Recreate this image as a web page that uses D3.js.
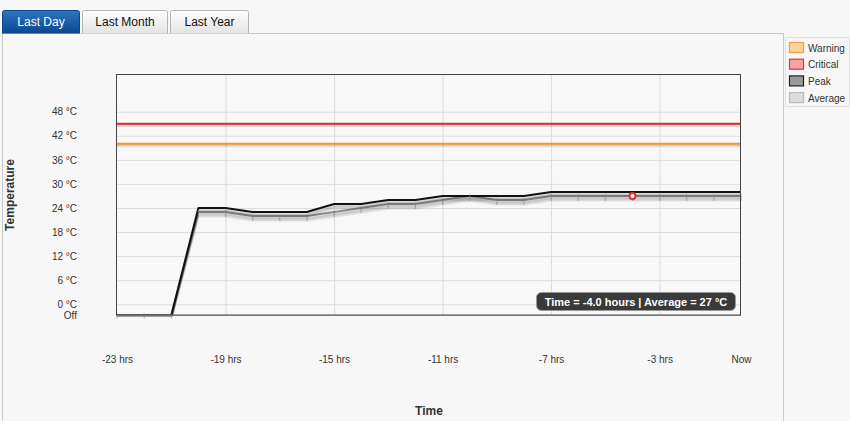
<!DOCTYPE html>
<html><head><meta charset="utf-8">
<script src="https://cdn.jsdelivr.net/npm/d3@7"></script>
<style>
html,body{margin:0;padding:0;background:#f7f7f7;}
svg{display:block;font-family:"Liberation Sans",Arial,sans-serif;}
</style></head>
<body><svg id="c" width="850" height="421"></svg>
<script>
// ---- data ----
const hours = [-23,-22,-21,-20,-19,-18,-17,-16,-15,-14,-13,-12,-11,-10,-9,-8,-7,-6,-5,-4,-3,-2,-1,0];
// null = "Off"
const peak    = [null,null,null,24,24,23,23,23,25,25,26,26,27,27,27,27,28,28,28,28,28,28,28,28];
const average = [null,null,null,23,23,22,22,22,23,24,25,25,26,27,26,26,27,27,27,27,27,27,27,27];
const warningLevel = 40;
const criticalLevel = 45;
const yTicks = [0,6,12,18,24,30,36,42,48];
const xTicks = [-23,-19,-15,-11,-7,-3,0];
const xGrid = [-19,-15,-11,-7,-3];
const tabs = ["Last Day","Last Month","Last Year"];
const legendItems = [
  {name:"Warning", fill:"#fdd49b", stroke:"#f0a33a"},
  {name:"Critical", fill:"#f5a3a3", stroke:"#e03535"},
  {name:"Peak", fill:"#9a9a9a", stroke:"#222"},
  {name:"Average", fill:"#dcdcdc", stroke:"#bbb"}
];
const hover = {time:-4, value:27};

const svg = d3.select("#c");
const offVal = -2.8;
const x = d3.scaleLinear().domain([-23,0]).range([117,741]);
const y = d3.scaleLinear().domain([offVal,57.4]).range([315.5,74]);
const L=116, R=741, T=74, B=315.5;

// panel
svg.append("rect").attr("x",0).attr("y",0).attr("width",850).attr("height",421).attr("fill","#f7f7f7");
svg.append("line").attr("x1",2).attr("x2",783).attr("y1",33.5).attr("y2",33.5).attr("stroke","#c8c8c8");
svg.append("line").attr("x1",2.5).attr("x2",2.5).attr("y1",33).attr("y2",421).attr("stroke","#c8c8c8");
svg.append("line").attr("x1",783.5).attr("x2",783.5).attr("y1",33).attr("y2",421).attr("stroke","#c8c8c8");

// tabs
const defs = svg.append("defs");
const g1 = defs.append("linearGradient").attr("id","tabA").attr("x1",0).attr("x2",0).attr("y1",0).attr("y2",1);
g1.append("stop").attr("offset","0%").attr("stop-color","#2e74c0");
g1.append("stop").attr("offset","100%").attr("stop-color","#0b4790");
const g2 = defs.append("linearGradient").attr("id","tabI").attr("x1",0).attr("x2",0).attr("y1",0).attr("y2",1);
g2.append("stop").attr("offset","0%").attr("stop-color","#ffffff");
g2.append("stop").attr("offset","100%").attr("stop-color","#e2e2e2");
defs.append("clipPath").attr("id","plotclip").append("rect")
  .attr("x",L).attr("y",T).attr("width",R-L).attr("height",B-T+1);
const tabX = [2,82,170], tabW=[78,86,79];
tabs.forEach((t,i)=>{
  svg.append("path")
    .attr("d",`M${tabX[i]+0.5},33.5 V12.5 Q${tabX[i]+0.5},10.5 ${tabX[i]+2.5},10.5 H${tabX[i]+tabW[i]-2.5} Q${tabX[i]+tabW[i]-0.5},10.5 ${tabX[i]+tabW[i]-0.5},12.5 V33.5`)
    .attr("fill", i===0?"url(#tabA)":"url(#tabI)")
    .attr("stroke", i===0?"#0b4790":"#b5b5b5");
  svg.append("text").attr("x",tabX[i]+tabW[i]/2).attr("y",25.5).attr("text-anchor","middle")
    .attr("font-size",12).attr("fill", i===0?"#fff":"#111").text(t);
});

// plot background
svg.append("rect").attr("x",L).attr("y",T).attr("width",R-L).attr("height",B-T).attr("fill","#f8f8f8");

// grid via axes
svg.append("g").attr("transform",`translate(${L},0)`)
  .call(d3.axisLeft(y).tickValues(yTicks).tickSize(-(R-L)).tickFormat(""))
  .call(g=>{g.select(".domain").remove(); g.selectAll("line").attr("stroke","#dcdcdc");});
svg.append("g").attr("transform",`translate(0,${B})`)
  .call(d3.axisBottom(x).tickValues(xGrid).tickSize(-(B-T)).tickFormat(""))
  .call(g=>{g.select(".domain").remove(); g.selectAll("line").attr("stroke","#dcdcdc");});

const plot = svg.append("g").attr("clip-path","url(#plotclip)");

// thresholds
function hline(v,color){
  [[3,0.06],[2,0.1],[1,0.15]].forEach(([o,a])=>{
    plot.append("line").attr("x1",L).attr("x2",R).attr("y1",y(v)+o).attr("y2",y(v)+o)
      .attr("stroke",`rgba(0,0,0,${a})`).attr("stroke-width",1.5);
  });
  plot.append("line").attr("x1",L).attr("x2",R).attr("y1",y(v)).attr("y2",y(v))
    .attr("stroke",color).attr("stroke-width",2);
}
hline(criticalLevel,"#dd2a2a");
hline(warningLevel,"#f0992a");

const val = v => v===null ? offVal : v;
const line = d3.line().x((d,i)=>x(hours[i])).y(d=>y(val(d)));

function series(data,color,w){
  [[5,0.05],[4,0.07],[3,0.09],[2,0.12]].forEach(([o,a])=>{
    plot.append("path").datum(data).attr("d",line).attr("fill","none")
      .attr("stroke",`rgba(0,0,0,${a})`).attr("stroke-width",2)
      .attr("transform",`translate(0,${o})`);
  });
  plot.append("path").datum(data).attr("d",line).attr("fill","none")
    .attr("stroke",color).attr("stroke-width",w).attr("stroke-linejoin","round");
}
series(average,"#8c8c8c",2);
// point marks on average
svg.append("g").selectAll("line").data(average).join("line")
  .attr("x1",(d,i)=>x(hours[i])).attr("x2",(d,i)=>x(hours[i]))
  .attr("y1",d=>y(val(d))-2).attr("y2",d=>y(val(d))+(d===null?3:5))
  .attr("stroke","#8a8a8a").attr("stroke-width",1).attr("opacity",0.7);
series(peak,"#111",2);

// frame
svg.append("rect").attr("x",L+0.5).attr("y",T+0.5).attr("width",R-L-1).attr("height",B-T-1)
  .attr("fill","none").attr("stroke","#444").attr("stroke-width",1);
svg.append("line").attr("x1",L).attr("x2",R).attr("y1",B).attr("y2",B).attr("stroke","#777");

// axes labels
svg.append("g").attr("transform",`translate(${L},0)`)
  .call(d3.axisLeft(y).tickValues([offVal].concat(yTicks)).tickSize(0).tickPadding(39)
    .tickFormat(d=> d===offVal ? "Off" : d+" °C"))
  .call(g=>{g.select(".domain").remove(); g.selectAll("text").attr("font-size",10).attr("fill","#333")
    .attr("font-family","Liberation Sans, Arial, sans-serif");});
svg.append("g").attr("transform",`translate(0,${B})`)
  .call(d3.axisBottom(x).tickValues(xTicks).tickSize(0).tickPadding(40)
    .tickFormat(d=> d===0 ? "Now" : d+" hrs"))
  .call(g=>{g.select(".domain").remove(); g.selectAll("text").attr("font-size",10).attr("fill","#333")
    .attr("font-family","Liberation Sans, Arial, sans-serif");});

svg.append("text").attr("transform","translate(14,195) rotate(-90)").attr("text-anchor","middle")
  .attr("font-size",12).attr("font-weight","bold").attr("fill","#333").text("Temperature");
svg.append("text").attr("x",429).attr("y",415).attr("text-anchor","middle")
  .attr("font-size",12).attr("font-weight","bold").attr("fill","#333").text("Time");

// hover marker
svg.append("circle").attr("cx",x(hover.time)).attr("cy",y(hover.value)).attr("r",3)
  .attr("fill","#fff").attr("stroke","#e03020").attr("stroke-width",2);

// tooltip
svg.append("rect").attr("x",536.5).attr("y",292.5).attr("width",199).attr("height",18).attr("rx",5)
  .attr("fill","#3a3a3a").attr("stroke","#999");
svg.append("text").attr("x",636).attr("y",305.5).attr("text-anchor","middle").attr("font-size",11)
  .attr("font-weight","bold").attr("fill","#fff")
  .text(`Time = ${hover.time.toFixed(1)} hours | Average = ${hover.value} °C`);

// legend
svg.append("rect").attr("x",785.5).attr("y",37.5).attr("width",64).attr("height",69)
  .attr("fill","#f7f7f7").attr("stroke","#e0e0e0");
legendItems.forEach((d,i)=>{
  const yy = 42 + i*16.7;
  svg.append("rect").attr("x",789.5).attr("y",yy+0.5).attr("width",14).attr("height",10)
    .attr("fill",d.fill).attr("stroke",d.stroke).attr("stroke-width",1.2);
  svg.append("text").attr("x",808).attr("y",yy+9.5).attr("font-size",10).attr("fill","#333").text(d.name);
});
</script></body></html>
